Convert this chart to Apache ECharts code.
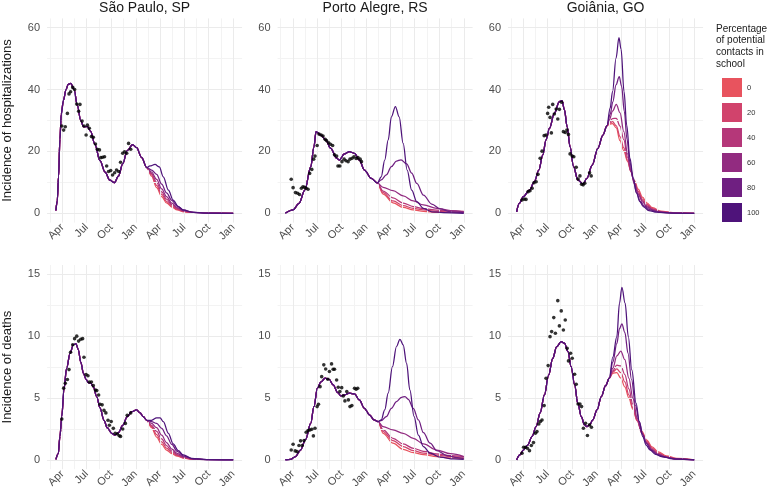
<!DOCTYPE html>
<html><head><meta charset="utf-8">
<script src="https://cdn.jsdelivr.net/npm/echarts@6/dist/echarts.min.js"></script>
<style>html,body{margin:0;padding:0;background:#fff}#c{width:767px;height:493px}</style>
</head><body><div id="c"></div>
<script>
// x values are days since 2020-04-01
const tickDays = [0, 91, 183, 275, 365, 456, 548, 640];
const tickLabels = ['Apr', 'Jul', 'Oct', 'Jan', 'Apr', 'Jul', 'Oct', 'Jan'];
const minorDays = [-45.5, 45.5, 137, 229, 320, 410.5, 502, 594];
const cities = ['São Paulo, SP', 'Porto Alegre, RS', 'Goiânia, GO'];
const rowTitles = ['Incidence of hospitalizations', 'Incidence of deaths'];
const scenarios = ['0', '20', '40', '60', '80', '100'];
const scenarioColors = ['#E8535E', '#D1436C', '#B53779', '#922B80', '#6F1F81', '#4E137A'];
const hospMajor = [0, 20, 40, 60], hospMinor = [10, 30, 50];
const deathMajor = [0, 5, 10, 15], deathMinor = [2.5, 7.5, 12.5];

// ---------- São Paulo hospitalizations ----------
const spHospCommon = [[-24,0.9],[-19,4],[-14,12],[-9,24],[-4,32],[4,36.5],[14,40],[22,41.7],[32,42],[44,40],[56,35],[69,30],[79,28],[94,28],[106,26.5],[122,22.3],[141,17],[160,13.3],[178,10.7],[195,9.9],[210,12],[226,16],[243,20.3],[263,22.2],[278,21.2],[297,18],[316,14.8]];
const spHospBranches = [
  [[334,12.0],[353,8.3],[372,5.4],[390,3.4],[410,2.0],[430,1.1],[455,0.5],[490,0.15],[540,0.03],[640,0]],
  [[334,12.4],[353,9.0],[372,6.1],[390,3.9],[410,2.35],[430,1.3],[455,0.6],[490,0.2],[540,0.04],[640,0]],
  [[334,12.8],[353,10.0],[372,6.9],[390,4.6],[410,2.8],[430,1.55],[455,0.7],[490,0.25],[540,0.05],[640,0]],
  [[334,13.3],[353,11.0],[372,7.9],[390,5.4],[410,3.3],[430,1.85],[455,0.8],[490,0.28],[540,0.06],[640,0]],
  [[334,14.0],[353,12.6],[372,9.4],[390,6.6],[410,4.2],[430,2.3],[455,1.0],[490,0.33],[540,0.07],[640,0]],
  [[328,15.3],[347,15.8],[363,15],[378,11.8],[397,7.5],[415,4.3],[434,2.2],[453,1.1],[484,0.4],[528,0.1],[640,0]]
];
const spHospObs = [[-2,28.2],[5,26.9],[11,28],[19,32.3],[25,38.6],[31,39.3],[39,40.7],[46,40],[54,35.3],[61,33],[66,35.2],[74,29.8],[81,28.2],[89,25.3],[94,28.5],[101,27.5],[109,24.8],[116,24.6],[124,22.4],[131,20.7],[139,20.5],[144,18],[151,18.1],[158,18.3],[166,15.3],[173,13.5],[181,13.8],[188,12.4],[196,13.1],[203,14],[211,13.5],[218,16.5],[226,19.4],[233,19.9],[241,19.4],[248,22.6],[256,20.7]];

// ---------- Porto Alegre hospitalizations ----------
const paHospCommon = [[-28,0],[1,1.1],[23,3.2],[45,7.5],[67,15],[79,21.5],[87,26.4],[105,25.3],[123,23.7],[142,21],[164,17.8],[174,17.2],[193,19.2],[212,19.9],[231,19.4],[249,17.2],[268,14],[294,11.3],[316,9.8]];
const paHospBranches = [
  [[338,6.2],[375,3.4],[413,1.9],[451,1.1],[489,0.65],[539,0.3],[590,0.15],[640,0.1]],
  [[338,6.7],[375,4.0],[413,2.5],[451,1.6],[489,1.1],[539,0.65],[590,0.45],[640,0.35]],
  [[338,7.2],[375,5.0],[413,3.3],[451,2.2],[489,1.5],[539,1.0],[590,0.8],[640,0.65]],
  [[338,8.4],[375,7.3],[413,5.6],[451,4.0],[489,2.7],[539,1.6],[590,0.9],[640,0.5]],
  [[331,10.8],[350,12.4],[369,15.1],[388,16.9],[405,17.3],[426,16],[445,13],[464,9.7],[489,5.9],[520,3],[552,1.4],[590,0.5],[640,0.2]],
  [[331,11.8],[344,17.2],[357,23.7],[369,31.2],[384,34.5],[398,31.2],[413,22.6],[428,14],[445,7.5],[464,3.8],[489,1.6],[520,0.5],[564,0.2],[640,0]]
];
const paHospObs = [[-6,11],[1,8.3],[10,6.7],[18,6.5],[25,6.1],[32,8.1],[38,8.6],[44,8.4],[50,8.1],[57,7.8],[63,12.9],[71,14.2],[78,17.5],[83,18.5],[91,21.9],[98,25.6],[106,25.3],[113,25],[121,23.9],[126,23.5],[134,22.8],[141,22.3],[149,21.9],[156,18.9],[164,18.5],[169,15.3],[176,15.3],[184,16.7],[192,17.5],[199,17],[207,16.7],[214,17.5],[222,17.8],[229,18.3],[237,17.7],[244,18],[252,17.5],[257,16.7]];

// ---------- Goiânia hospitalizations ----------
const goHospCommon = [[-25,0.5],[-15,3.2],[0,5.4],[23,7.5],[41,10.2],[58,14],[73,18.9],[85,23.7],[98,27.5],[116,32.3],[135,36.1],[145,36.4],[154,33.4],[164,28],[175,21.5],[188,15.1],[204,10.8],[223,9.5],[238,11.3],[258,15.6],[279,21],[298,25.3],[313,28.3]];
const goHospBranches = [
  [[322,28.8],[334,29.0],[348,27.6],[362,23.5],[376,20.3],[390,16.8],[403,13.6],[416,10.6],[430,7.8],[446,5.2],[462,3.4],[484,1.8],[515,0.7],[560,0.2],[640,0]],
  [[322,29.1],[334,29.6],[348,28.3],[362,24.8],[376,21.2],[390,17.2],[403,13.4],[416,10.1],[430,7.1],[446,4.6],[462,2.9],[484,1.5],[515,0.55],[560,0.15],[640,0]],
  [[322,29.5],[334,30.6],[348,30.7],[362,28.2],[376,23.8],[390,18.2],[403,13.4],[416,9.8],[430,6.6],[446,4.1],[462,2.5],[484,1.25],[515,0.45],[560,0.12],[640,0]],
  [[322,30.2],[334,33.0],[348,35.2],[362,32.5],[376,26.5],[390,19.2],[403,13.5],[416,9.4],[430,6.2],[446,3.7],[462,2.2],[484,1.05],[515,0.38],[560,0.1],[640,0]],
  [[325,32],[335,36],[347,41.5],[359,44.2],[368,41],[378,33],[388,24],[399,16.5],[411,11],[424,6.6],[438,3.9],[452,2.4],[475,1.1],[505,0.4],[560,0.1],[640,0]],
  [[325,34],[334,39.3],[347,50.1],[358,56.8],[366,53],[377,39.3],[387,28.5],[399,17.8],[411,11.5],[424,6.5],[436,3.8],[449,2.2],[470,0.9],[499,0.35],[550,0.08],[640,0]]
];
const goHospObs = [[-5,4.3],[3,4.6],[10,4.5],[18,7],[25,7.3],[33,8.1],[40,9.9],[48,10.2],[55,12.6],[63,17.8],[70,20.1],[78,25.1],[85,25.3],[91,32.3],[95,34.3],[100,31],[105,26],[110,35.2],[116,32.1],[123,33.7],[129,30.5],[135,33.6],[143,35.9],[150,26.4],[157,26.1],[163,26.9],[169,25.5],[175,19.2],[183,18.5],[189,18.3],[198,14.9],[205,11.1],[212,12.1],[218,9.4],[224,9.2],[230,9.7],[248,13.1],[254,12.1]];

// ---------- São Paulo deaths ----------
const spDeathCommon = [[-24,0.05],[-15,0.5],[-9,1.9],[-2,3.5],[6,5.7],[16,7.4],[29,8.6],[41,9.3],[51,9.4],[60,8.9],[69,7.9],[79,7.0],[89,6.5],[97,6.25],[106,6.2],[116,5.9],[129,5.1],[141,4.2],[156,3.2],[168,2.6],[185,2.15],[197,2.0],[210,2.2],[226,2.8],[243,3.5],[260,3.9],[278,4.05],[291,3.8],[303,3.5],[316,3.2]];
const spDeathBranches = [
  [[334,2.6],[353,1.85],[372,1.25],[390,0.8],[410,0.5],[430,0.3],[455,0.14],[490,0.04],[540,0.01],[640,0]],
  [[334,2.7],[353,2.05],[372,1.45],[390,0.95],[410,0.6],[430,0.36],[455,0.17],[490,0.05],[540,0.01],[640,0]],
  [[334,2.8],[353,2.3],[372,1.7],[390,1.15],[410,0.72],[430,0.43],[455,0.2],[490,0.06],[540,0.01],[640,0]],
  [[334,2.95],[353,2.6],[372,2.0],[390,1.4],[410,0.88],[430,0.52],[455,0.24],[490,0.07],[540,0.015],[640,0]],
  [[334,3.1],[353,2.95],[372,2.55],[390,1.95],[410,1.25],[430,0.7],[455,0.3],[490,0.09],[540,0.02],[640,0]],
  [[334,3.2],[353,3.4],[366,3.4],[378,3.1],[397,2.15],[415,1.3],[434,0.75],[453,0.4],[484,0.13],[540,0.03],[640,0]]
];
const spDeathObs = [[-2,3.3],[5,5.8],[11,6.2],[19,6.5],[25,7.3],[31,8.7],[39,9.3],[46,9.8],[54,10],[61,9.6],[69,9.75],[76,9.8],[81,8.3],[89,6.9],[96,6.8],[101,6.3],[109,6.3],[116,6],[124,5.65],[129,5.6],[136,5.25],[141,4.5],[149,4.45],[156,4],[163,3.8],[171,3.2],[176,2.8],[183,3.1],[191,2.55],[198,2.15],[206,2.1],[213,1.95],[218,1.9],[226,2.5],[236,2.95],[243,3.6],[256,3.8]];

// ---------- Porto Alegre deaths ----------
const paDeathCommon = [[-28,0],[-9,0.05],[10,0.27],[29,0.8],[48,1.67],[67,2.96],[79,4.3],[92,5.8],[105,6.3],[121,6.6],[136,6.5],[151,6.06],[168,5.44],[180,5.17],[193,5.25],[212,5.4],[231,5.33],[249,4.85],[268,4.17],[287,3.64],[304,3.23],[319,3.1]];
const paDeathBranches = [
  [[338,2.15],[375,1.35],[413,0.86],[451,0.59],[489,0.43],[539,0.27],[590,0.16],[640,0.11]],
  [[338,2.29],[375,1.56],[413,1.08],[451,0.75],[489,0.54],[539,0.38],[590,0.27],[640,0.22]],
  [[338,2.42],[375,1.75],[413,1.29],[451,0.94],[489,0.7],[539,0.48],[590,0.35],[640,0.27]],
  [[338,2.7],[375,2.42],[413,2.15],[451,1.75],[489,1.29],[539,0.8],[590,0.5],[640,0.27]],
  [[331,3.18],[350,3.5],[369,4.17],[388,4.71],[407,5.06],[420,5.12],[432,4.9],[451,4.17],[470,3.23],[489,2.2],[514,1.35],[539,0.75],[577,0.35],[615,0.19],[640,0.13]],
  [[331,3.23],[344,4.04],[357,5.39],[373,7.54],[388,9.16],[401,9.75],[413,9.3],[426,7.8],[438,5.66],[454,3.5],[470,2.0],[489,1.08],[514,0.54],[552,0.22],[602,0.08],[640,0.05]]
];
const paDeathObs = [[-6,0.8],[1,1.27],[9,0.73],[16,0.67],[23,1.16],[29,1.54],[35,1.16],[42,1.56],[50,2.24],[57,2.37],[64,2.42],[71,2.48],[77,1.94],[83,2.56],[91,4.31],[96,4.5],[102,5.92],[108,6.73],[116,7.68],[123,7.35],[131,6.52],[137,7.14],[145,7.76],[151,7.33],[156,7.33],[164,6.46],[170,5.87],[176,5.52],[183,5.84],[189,5.17],[195,4.77],[202,5.52],[208,4.85],[214,4.31],[221,4.39],[231,5.79],[237,5.71],[243,5.79]];

// ---------- Goiânia deaths ----------
const goDeathCommon = [[-25,0],[-13,0.4],[0,0.8],[16,1.2],[33,1.9],[48,2.7],[63,3.8],[79,5.25],[95,6.87],[110,8.2],[125,9.16],[142,9.56],[154,9.43],[167,8.75],[179,7.54],[192,6.06],[204,4.58],[217,3.5],[229,2.83],[238,2.7],[248,2.83],[260,3.23],[276,4.04],[292,5.12],[308,6.0],[322,6.6]];
const goDeathBranches = [
  [[335,7.0],[350,7.05],[365,6.6],[380,5.9],[395,5.0],[410,4.1],[426,3.2],[444,2.3],[462,1.6],[482,1.05],[505,0.65],[535,0.33],[575,0.12],[640,0]],
  [[335,7.1],[350,7.35],[365,7.05],[380,6.3],[395,5.25],[410,4.2],[426,3.15],[444,2.2],[462,1.5],[482,0.95],[505,0.55],[535,0.27],[575,0.09],[640,0]],
  [[335,7.2],[350,7.65],[365,7.6],[380,6.9],[395,5.75],[410,4.5],[426,3.25],[444,2.15],[462,1.4],[482,0.85],[505,0.5],[535,0.23],[575,0.07],[640,0]],
  [[335,7.4],[350,8.4],[365,8.8],[380,8.1],[395,6.6],[410,5.0],[426,3.4],[444,2.15],[462,1.35],[482,0.8],[505,0.45],[535,0.2],[575,0.06],[640,0]],
  [[335,7.9],[350,9.4],[360,10.6],[369,11.0],[380,10.3],[392,8.6],[405,6.5],[420,4.4],[434,3.1],[448,2.0],[462,1.3],[478,0.8],[500,0.45],[525,0.25],[570,0.07],[640,0]],
  [[335,8.3],[350,9.96],[360,12.66],[369,13.95],[381,12.66],[393,9.96],[406,7.27],[422,4.58],[434,3.1],[447,1.88],[460,1.2],[474,0.81],[495,0.45],[518,0.27],[560,0.08],[640,0]]
];
const goDeathObs = [[-5,0.54],[1,1.02],[8,1.02],[15,0.94],[23,0.75],[30,1.16],[38,1.4],[45,2.15],[51,2.29],[58,2.9],[64,3.1],[70,3.23],[78,4.39],[85,6.6],[93,7.62],[100,9.96],[106,10.37],[114,11.5],[120,10.23],[129,12.87],[135,10.83],[142,12.04],[150,10.5],[157,11.31],[164,9.02],[169,8.0],[177,8.62],[183,8.21],[192,6.92],[198,6.11],[205,4.52],[212,4.52],[218,4.31],[225,2.56],[233,2.96],[240,1.97],[248,2.83],[255,2.64]];

const panels = [
  {col:0,row:0,common:spHospCommon,branches:spHospBranches,obs:spHospObs},
  {col:1,row:0,common:paHospCommon,branches:paHospBranches,obs:paHospObs},
  {col:2,row:0,common:goHospCommon,branches:goHospBranches,obs:goHospObs},
  {col:0,row:1,common:spDeathCommon,branches:spDeathBranches,obs:spDeathObs},
  {col:1,row:1,common:paDeathCommon,branches:paDeathBranches,obs:paDeathObs},
  {col:2,row:1,common:goDeathCommon,branches:goDeathBranches,obs:goDeathObs}
];

const FONT = '"Liberation Sans", Arial, Helvetica, sans-serif';
const colLeft = [47.1, 277.6, 508.1];
const panelW = 195;
const rowTop = [18.4, 265];
const panelH = 204.2;
const rowRange = [[-3, 63], [-0.75, 15.75]];
const rowMajor = [hospMajor, deathMajor];
const rowMinor = [hospMinor, deathMinor];

const grids = [], xAxes = [], yAxes = [], series = [];
panels.forEach((p, i) => {
  grids.push({left: colLeft[p.col], top: rowTop[p.row], width: panelW, height: panelH, containLabel: false});
  xAxes.push({
    type: 'value', gridIndex: i, min: -57, max: 673,
    axisLine: {show: false}, axisTick: {show: false}, splitLine: {show: false},
    axisLabel: {
      customValues: tickDays, rotate: 45, margin: 3, fontSize: 11, color: '#4D4D4D', fontFamily: FONT,
      formatter: v => { const k = tickDays.indexOf(v); return k >= 0 ? tickLabels[k] : ''; }
    }
  });
  yAxes.push({
    type: 'value', gridIndex: i, min: rowRange[p.row][0], max: rowRange[p.row][1],
    axisLine: {show: false}, axisTick: {show: false}, splitLine: {show: false},
    axisLabel: {customValues: rowMajor[p.row], margin: 7, fontSize: 11, color: '#4D4D4D', fontFamily: FONT,
      formatter: v => String(v)},
    name: p.col === 0 ? rowTitles[p.row] : '',
    nameLocation: 'middle', nameRotate: 90, nameGap: 33,
    nameTextStyle: {fontSize: 13, color: '#1A1A1A', fontFamily: FONT}
  });
  const ml = [];
  minorDays.forEach(d => ml.push({xAxis: d, lineStyle: {color: '#F3F3F3', width: 1}}));
  rowMinor[p.row].forEach(v => ml.push({yAxis: v, lineStyle: {color: '#F3F3F3', width: 1}}));
  tickDays.forEach(d => ml.push({xAxis: d, lineStyle: {color: '#EBEBEB', width: 1}}));
  rowMajor[p.row].forEach(v => ml.push({yAxis: v, lineStyle: {color: '#EBEBEB', width: 1}}));
  series.push({
    type: 'line', xAxisIndex: i, yAxisIndex: i, data: [], silent: true, z: 0,
    markLine: {silent: true, symbol: ['none', 'none'], label: {show: false}, animation: false,
      emphasis: {disabled: true}, lineStyle: {type: 'solid'}, data: ml}
  });
  p.branches.forEach((b, s) => {
    series.push({
      name: scenarios[s], type: 'line', xAxisIndex: i, yAxisIndex: i,
      data: p.common.concat(b), smooth: 0.35, smoothMonotone: 'x', symbol: 'none',
      lineStyle: {color: scenarioColors[s], width: 1.25}, itemStyle: {color: scenarioColors[s]},
      z: 2 + s, animation: false, silent: true
    });
  });
  series.push({
    type: 'scatter', xAxisIndex: i, yAxisIndex: i, data: p.obs, symbolSize: 3.6,
    itemStyle: {color: '#000'}, z: 20, animation: false, silent: true
  });
});

const titles = cities.map((c, k) => ({
  text: c, left: colLeft[k] + panelW / 2, top: 1.5, textAlign: 'center', padding: 0,
  textStyle: {fontSize: 14, fontWeight: 'normal', color: '#1A1A1A', fontFamily: FONT}
}));

const chart = echarts.init(document.getElementById('c'), null, {renderer: 'canvas'});
chart.setOption({
  animation: false,
  backgroundColor: '#fff',
  title: titles,
  grid: grids, xAxis: xAxes, yAxis: yAxes, series: series,
  legend: {
    data: scenarios, orient: 'vertical', left: 717, top: 73,
    itemWidth: 20, itemHeight: 19, itemGap: 6, icon: 'rect', selectedMode: false,
    itemStyle: {borderWidth: 0},
    textStyle: {fontSize: 7.5, color: '#333', fontFamily: FONT}
  },
  graphic: [{
    type: 'text', left: 716, top: 23,
    style: {text: 'Percentage\nof potential\ncontacts in\nschool', fontSize: 10, lineHeight: 11.7,
      fill: '#1A1A1A', fontFamily: FONT}
  }]
});
</script></body></html>
